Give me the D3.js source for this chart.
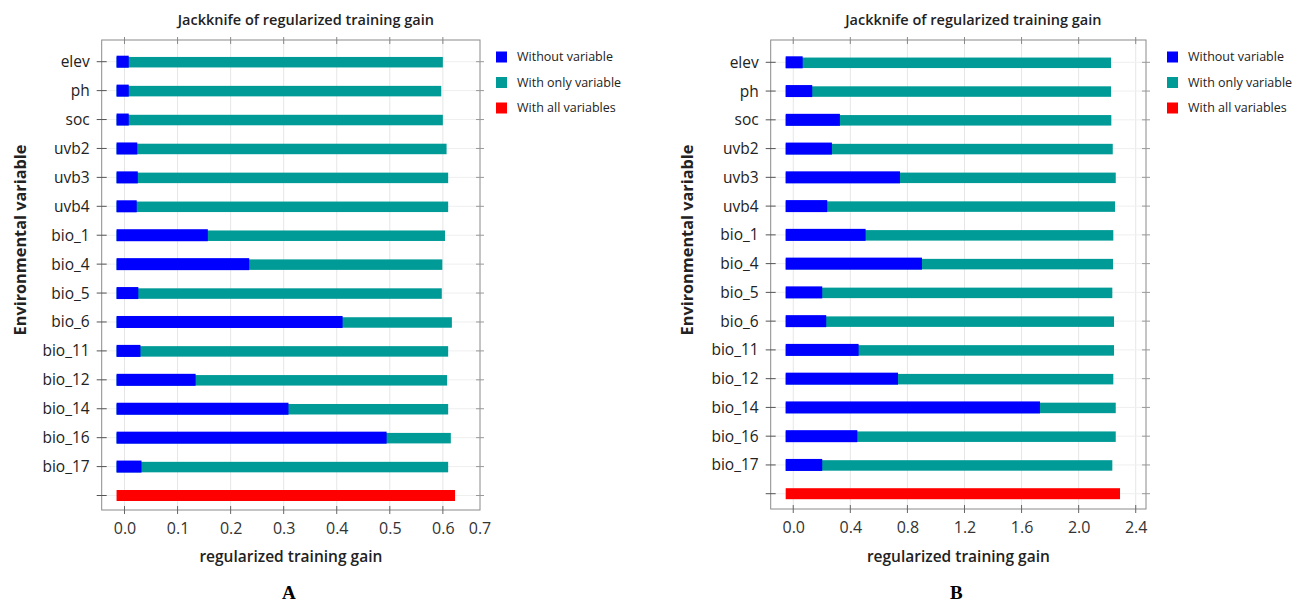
<!DOCTYPE html>
<html>
<head>
<meta charset="utf-8">
<script src="https://cdn.jsdelivr.net/npm/d3@7"></script>
<style>
  html, body { margin: 0; padding: 0; background: #ffffff; }
  svg { display: block; }
</style>
</head>
<body>
<svg id="chart" width="1302" height="604"></svg>
<script>
// ---------------- data ----------------
const variables = ["elev","ph","soc","uvb2","uvb3","uvb4","bio_1","bio_4","bio_5","bio_6","bio_11","bio_12","bio_14","bio_16","bio_17"];

// Panel A
const withoutA  = [0.008,0.008,0.008,0.024,0.025,0.023,0.157,0.235,0.026,0.411,0.030,0.134,0.309,0.494,0.032];
const onlyA     = [0.600,0.597,0.600,0.607,0.610,0.610,0.604,0.599,0.598,0.617,0.610,0.608,0.610,0.615,0.610];
const allA      = 0.623;
const ticksA    = [0.0,0.1,0.2,0.3,0.4,0.5,0.6];
const tickLabelsA = ["0.0","0.1","0.2","0.3","0.4","0.5","0.6","0.7"];
const domainA   = [-0.043, 0.670];
const baseA     = -0.015;

// Panel B
const withoutB  = [0.066,0.133,0.327,0.271,0.748,0.238,0.507,0.902,0.203,0.231,0.458,0.734,1.729,0.449,0.203];
const onlyB     = [2.227,2.227,2.229,2.239,2.260,2.255,2.243,2.241,2.236,2.248,2.248,2.243,2.260,2.260,2.236];
const allB      = 2.290;
const ticksB    = [0.0,0.4,0.8,1.2,1.6,2.0,2.4];
const tickLabelsB = ["0.0","0.4","0.8","1.2","1.6","2.0","2.4"];
const domainB   = [-0.158, 2.472];
const baseB     = -0.053;

const legendLabels = ["Without variable","With only variable","With all variables"];
const titleText = "Jackknife of regularized training gain";
const xTitle = "regularized training gain";
const yTitle = "Environmental variable";

// ---------------- drawing ----------------
const C_BLUE = "#0000ff", C_TEAL = "#009b96", C_RED = "#ff0000";
const FONT = "'Open Sans', 'DejaVu Sans', sans-serif";
const svg = d3.select("#chart");
svg.append("rect").attr("width",1302).attr("height",604).attr("fill","#ffffff");

function drawPanel(cfg) {
  const g = svg.append("g");
  const L = cfg.left, R = cfg.right, T = 40, B = cfg.bottom;
  const x = d3.scaleLinear().domain(cfg.domain).range([L, R]);
  const rows = cfg.vars.concat(["__all__"]);
  const y = d3.scalePoint().domain(rows).range([cfg.y0, cfg.y1]).padding(0);

  // gridlines
  g.selectAll(".vgrid").data(cfg.ticks).enter().append("line")
    .attr("x1", d => x(d)).attr("x2", d => x(d)).attr("y1", T).attr("y2", B)
    .attr("stroke", "#e6e6e6").attr("stroke-width", 1);
  g.selectAll(".hgrid").data(rows).enter().append("line")
    .attr("x1", L).attr("x2", R).attr("y1", d => y(d)).attr("y2", d => y(d))
    .attr("stroke", "#efefef").attr("stroke-width", 1);

  // bars
  const data = cfg.vars.map((v, i) => ({v, without: cfg.without[i], only: cfg.only[i]}));
  const hTeal = 10.5, hBlue = 12, hRed = 11;
  g.selectAll(".teal").data(data).enter().append("rect")
    .attr("x", x(cfg.base)).attr("y", d => y(d.v) - hTeal/2 + 0.5)
    .attr("width", d => x(d.only) - x(cfg.base)).attr("height", hTeal)
    .attr("fill", C_TEAL);
  g.selectAll(".blue").data(data).enter().append("rect")
    .attr("x", x(cfg.base)).attr("y", d => y(d.v) - hBlue/2)
    .attr("width", d => x(d.without) - x(cfg.base)).attr("height", hBlue)
    .attr("fill", C_BLUE);
  g.append("rect")
    .attr("x", x(cfg.base)).attr("y", y("__all__") - hRed/2)
    .attr("width", x(cfg.all) - x(cfg.base)).attr("height", hRed)
    .attr("fill", C_RED);

  // frame
  g.append("rect").attr("x", L).attr("y", T).attr("width", R - L).attr("height", B - T)
    .attr("fill", "none").attr("stroke", "#8a8a8a").attr("stroke-width", 1);

  // bottom axis
  const axB = d3.axisBottom(x).tickValues(cfg.ticks).tickSize(0).tickFormat((d, i) => cfg.tickLabels[i]);
  const ga = g.append("g").attr("transform", `translate(0,${B})`).call(axB);
  ga.select(".domain").remove();
  ga.selectAll("text").attr("dy", 0).attr("y", 24).attr("font-family", FONT).attr("font-size", 16).attr("fill", "#333");
  if (cfg.tickLabels.length > cfg.ticks.length) {
    g.append("text").attr("x", x(cfg.domain[1])).attr("y", B + 24)
      .attr("text-anchor", "middle").attr("font-family", FONT).attr("font-size", 16).attr("fill", "#333")
      .text(cfg.tickLabels[cfg.tickLabels.length - 1]);
  }
  cfg.ticks.forEach(t => {
    g.append("line").attr("x1", x(t)).attr("x2", x(t)).attr("y1", B - 4).attr("y2", B + 4).attr("stroke", "#666");
    g.append("line").attr("x1", x(t)).attr("x2", x(t)).attr("y1", T - 3).attr("y2", T + 4).attr("stroke", "#888");
  });
  rows.forEach(r => {
    g.append("line").attr("x1", L - 5).attr("x2", L + 5).attr("y1", y(r)).attr("y2", y(r)).attr("stroke", "#555");
    g.append("line").attr("x1", R - 4).attr("x2", R + 4).attr("y1", y(r)).attr("y2", y(r)).attr("stroke", "#999");
  });

  // left axis labels
  const axL = d3.axisLeft(y).tickValues(cfg.vars).tickSize(0).tickPadding(12);
  const gl = g.append("g").attr("transform", `translate(${L},0)`).call(axL);
  gl.select(".domain").remove();
  gl.selectAll("text").attr("font-family", FONT).attr("font-size", 15.5).attr("fill", "#222");

  // titles
  g.append("text").attr("x", (L + R) / 2 + 15).attr("y", 25).attr("text-anchor", "middle")
    .attr("font-family", FONT).attr("font-weight", 600).attr("font-size", 14.5).attr("fill", "#222")
    .text(titleText);
  g.append("text").attr("x", (L + R) / 2).attr("y", 562).attr("text-anchor", "middle")
    .attr("font-family", FONT).attr("font-weight", 600).attr("font-size", 15.5).attr("fill", "#222")
    .text(xTitle);
  g.append("text").attr("transform", `translate(${cfg.yTitleX},240) rotate(-90)`)
    .attr("text-anchor", "middle").attr("dy", "0.35em")
    .attr("font-family", FONT).attr("font-weight", 700).attr("font-size", 16.3).attr("fill", "#222")
    .text(yTitle);
  g.append("text").attr("x", (L + R) / 2 - 2).attr("y", 599).attr("text-anchor", "middle")
    .attr("font-family", "'Liberation Serif', 'DejaVu Serif', serif").attr("font-weight", 700).attr("font-size", 19).attr("fill", "#000")
    .text(cfg.letter);

  // legend
  const colors = [C_BLUE, C_TEAL, C_RED];
  const lg = g.append("g");
  legendLabels.forEach((lab, i) => {
    const cy = 57 + i * 25.5;
    lg.append("rect").attr("x", cfg.legendX).attr("y", cy - 5.5).attr("width", 11).attr("height", 11).attr("fill", colors[i]);
    lg.append("text").attr("x", cfg.legendX + 21).attr("y", cy).attr("dy", "0.35em")
      .attr("font-family", FONT).attr("font-size", 12.5).attr("fill", "#222").text(lab);
  });
}

drawPanel({vars: variables, without: withoutA, only: onlyA, all: allA, ticks: ticksA, tickLabels: tickLabelsA,
  domain: domainA, base: baseA, left: 101.7, right: 480, bottom: 510, y0: 61.7, y1: 495.5,
  yTitleX: 20, legendX: 496, letter: "A"});
drawPanel({vars: variables, without: withoutB, only: onlyB, all: allB, ticks: ticksB, tickLabels: tickLabelsB,
  domain: domainB, base: baseB, left: 770.7, right: 1146, bottom: 509, y0: 62.3, y1: 493.7,
  yTitleX: 687, legendX: 1167, letter: "B"});
</script>
</body>
</html>
